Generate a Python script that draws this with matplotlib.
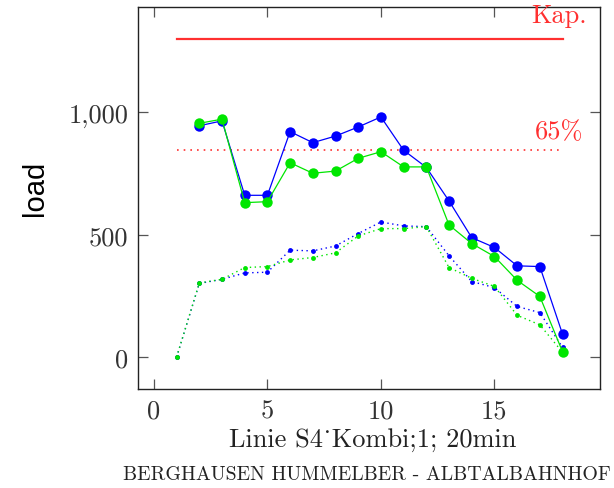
import matplotlib
matplotlib.use("Agg")
import matplotlib.pyplot as plt
from matplotlib.ticker import FixedLocator, FixedFormatter

# Stations along the line and passenger load per direction
stations_main = list(range(2, 19))
load_blue = [945, 965, 661, 661, 921, 876, 903, 940, 981, 845, 775, 638, 488, 448, 373, 370, 94]
load_green = [955, 972, 631, 635, 794, 751, 760, 812, 839, 777, 777, 540, 464, 411, 314, 248, 22]

stations_dotted = list(range(1, 19))
dotted_blue = [0, 301, 318, 344, 347, 437, 434, 454, 505, 552, 536, 533, 414, 309, 284, 207, 182, 40]
dotted_green = [0, 303, 318, 366, 370, 397, 407, 426, 495, 525, 525, 533, 366, 322, 289, 171, 132, 20]

capacity = 1300
share = 0.65
cap_range = [1, 18]

x_ticks = [0, 5, 10, 15]
x_ticklabels = ["0", "5", "10", "15"]
y_ticks = [0, 500, 1000]
y_ticklabels = ["0", "500", "1,000"]

serif = ["cmr10", "Liberation Serif"]

fig = plt.figure(figsize=(6.14, 4.89), dpi=100)
ax = fig.add_axes([138 / 614, 1 - 390 / 489, (600 - 138) / 614, (390 - 8) / 489])

blue = "#0000ff"
green = "#00e600"
red = "#ff3030"

# capacity and 65 % reference lines
ax.plot(cap_range, [capacity, capacity], color=red, lw=1.6)
ax.plot(cap_range, [capacity * share] * 2, color=red, lw=1.2, ls=(0, (1, 3)))

ax.plot(stations_dotted, dotted_blue, color=blue, lw=1.0, ls=(0, (1, 2.5)),
        marker="o", ms=3.5, mew=0)
ax.plot(stations_dotted, dotted_green, color=green, lw=1.0, ls=(0, (1, 2.5)),
        marker="o", ms=3.5, mew=0)
ax.plot(stations_main, load_blue, color=blue, lw=0.9, marker="o", ms=7.5, mew=0)
ax.plot(stations_main, load_green, color=green, lw=0.9, marker="o", ms=7.5, mew=0)

ax.text(17.85, 1398, "Kap.", color=red, ha="center", va="center",
        family=serif, fontsize=19)
ax.text(17.85, 922, "65%", color=red, ha="center", va="center",
        family=serif, fontsize=19)

ax.set_xlim(-0.7, 19.65)
ax.set_ylim(-130, 1430)

ax.xaxis.set_major_locator(FixedLocator(x_ticks))
ax.xaxis.set_major_formatter(FixedFormatter(x_ticklabels))
ax.yaxis.set_major_locator(FixedLocator(y_ticks))
ax.yaxis.set_major_formatter(FixedFormatter(y_ticklabels))
ax.tick_params(direction="in", length=7, width=0.9, color="#555555",
               top=True, right=True, labelsize=19, pad=7)
for lab in ax.get_xticklabels() + ax.get_yticklabels():
    lab.set_family(serif)
    lab.set_color("#333333")
for sp in ax.spines.values():
    sp.set_linewidth(1.0)
    sp.set_color("#222222")

fig.text(373 / 614, 1 - 440 / 489, "Linie S4\u02d9Kombi;1; 20min",
         ha="center", va="center", family=serif, fontsize=19, color="#222222")
fig.text(367 / 614, 1 - 475 / 489, "BERGHAUSEN HUMMELBER - ALBTALBAHNHOF",
         ha="center", va="center", family=serif, fontsize=14.3, color="#222222")
fig.text(35 / 614, 1 - 188 / 489, "load", rotation=90, ha="center", va="center",
         family="Liberation Sans", fontsize=21)

fig.savefig("out.png", dpi=100)
